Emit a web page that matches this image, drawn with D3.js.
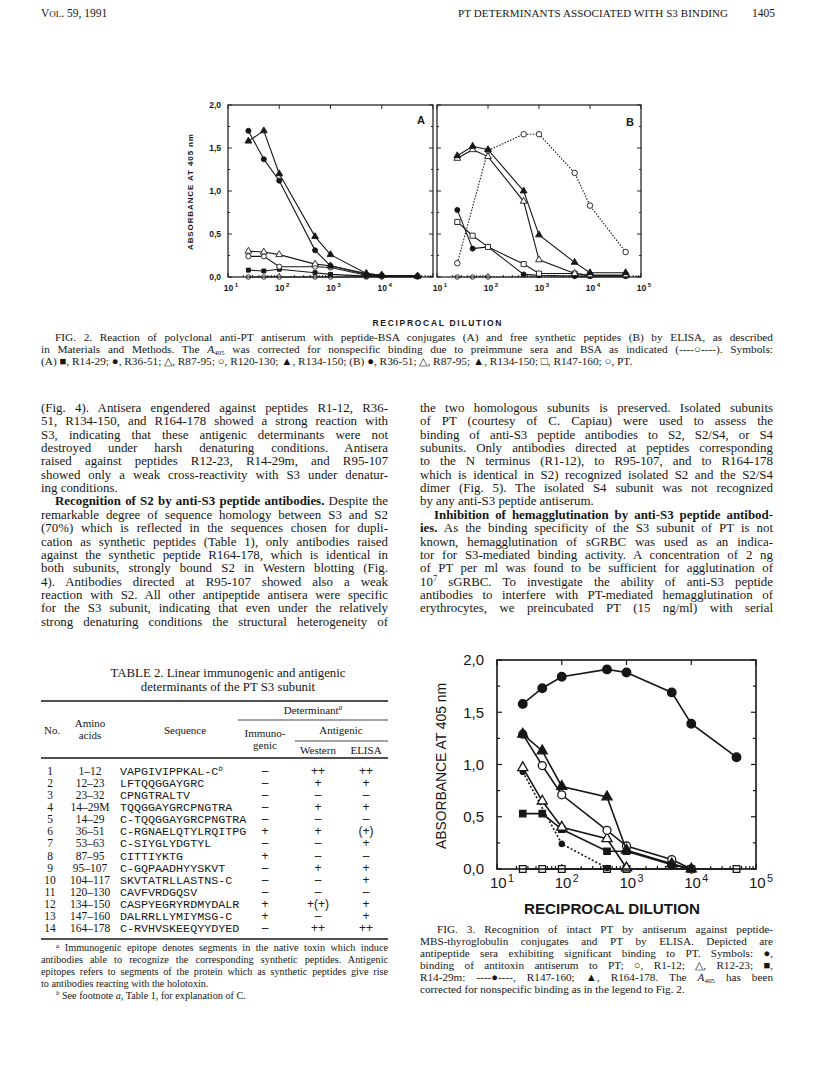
<!DOCTYPE html>
<html>
<head>
<meta charset="utf-8">
<script src="https://cdn.jsdelivr.net/npm/d3@7"></script>
<style>
  html, body { margin: 0; padding: 0; background: #fff; }
  svg { display: block; }
</style>
</head>
<body>
<svg id="page" width="816" height="1082"></svg>
<script>
// ---- data -----------------------------------------------------------------
const dilutions = [25, 50, 100, 500, 1000, 5000, 10000, 50000];

// Fig. 2A: anti-PT antiserum vs peptide-BSA conjugates (A405)
const fig2A_R14_29   = [0.08, 0.07, 0.09, 0.05, 0.03, 0.01, 0.01, 0.01];
const fig2A_R36_51   = [1.70, 1.37, 1.12, 0.31, 0.13, 0.03, 0.02, 0.01];
const fig2A_R87_95   = [0.30, 0.29, 0.26, 0.15, 0.13, 0.04, 0.02, 0.01];
const fig2A_R120_130 = [0.24, 0.24, 0.12, 0.12, 0.11, 0.02, 0.01, 0.01];
const fig2A_R134_150 = [1.58, 1.70, 1.20, 0.47, 0.26, 0.04, 0.02, 0.01];
const fig2A_control  = [0.00, 0.00, 0.00, 0.00, 0.00, 0.00, 0.00, 0.00];

// Fig. 2B: anti-PT antiserum vs free synthetic peptides
const fig2B_R36_51   = [0.78, 0.33, 0.35, 0.03, 0.02, 0.01, 0.01, 0.01];
const fig2B_R87_95   = [1.38, 1.48, 1.40, 0.88, 0.20, 0.04, 0.02, 0.02];
const fig2B_R134_150 = [1.41, 1.52, 1.48, 1.00, 0.49, 0.17, 0.05, 0.05];
const fig2B_R147_160 = [0.64, 0.48, 0.35, 0.15, 0.04, 0.04, 0.02, 0.02];
const fig2B_PT       = [0.16, null, 1.47, 1.66, 1.66, 1.21, 0.83, 0.29];
const fig2B_control  = [0.00, 0.00, 0.00, 0.00, 0.00, 0.00, 0.00, 0.00];

// Fig. 3: antipeptide sera vs intact PT
const fig3_antitoxin = [1.58, 1.73, 1.84, 1.91, 1.88, 1.69, 1.39, 1.07];
const fig3_R1_12     = [1.29, 0.99, 0.71, 0.37, 0.22, 0.09, 0.00, null];
const fig3_R12_23    = [0.97, 0.65, 0.40, 0.29, 0.01, null, null, null];
const fig3_R14_29m   = [0.53, 0.53, 0.38, 0.17, 0.17, 0.04, 0.00, null];
const fig3_R147_160  = [0.93, null, 0.24, 0.01, null, null, null, null];
const fig3_R164_178  = [1.29, 1.13, 0.79, 0.69, 0.18, 0.05, 0.00, null];
const fig3_control   = [0.00, 0.00, 0.00, 0.00, 0.00, null, 0.00, 0.00];

const yTicks      = [0, 0.5, 1.0, 1.5, 2.0];
const yTickLabels = ['0,0', '0,5', '1,0', '1,5', '2,0'];
const xDecades    = [10, 100, 1000, 10000, 100000];
const xExponents  = ['1', '2', '3', '4', '5'];

// Table 2
const tableNo      = ['1','2','3','4','5','6','7','8','9','10','11','12','13','14'];
const tableAmino   = ['1–12','12–23','23–32','14–29M','14–29','36–51','53–63','87–95',
                      '95–107','104–117','120–130','134–150','147–160','164–178'];
const tableSeq     = ['VAPGIVIPPKAL-C^b^','LFTQQGGAYGRC','CPNGTRALTV','TQQGGAYGRCPNGTRA',
                      'C-TQQGGAYGRCPNGTRA','C-RGNAELQTYLRQITPG','C-SIYGLYDGTYL','CITTIYKTG',
                      'C-GQPAADHYYSKVT','SKVTATRLLASTNS-C','CAVFVRDGQSV','CASPYEGRYRDMYDALR',
                      'DALRRLLYMIYMSG-C','C-RVHVSKEEQYYDYED'];
const tableImmuno  = ['–','–','–','–','–','+','–','+','–','–','–','+','+','–'];
const tableWestern = ['++','+','–','+','–','+','–','–','+','–','–','+(+)','–','++'];
const tableElisa   = ['++','+','–','+','–','(+)','+','–','+','+','–','+','+','++'];

// ---- text ---------------------------------------------------------------
const fig2Caption = [
  '>FIG. 2. Reaction of polyclonal anti-PT antiserum with peptide-BSA conjugates (A) and free synthetic peptides (B) by ELISA, as described',
  'in Materials and Methods. The {A}_405_ was corrected for nonspecific binding due to preimmune sera and BSA as indicated (----○----). Symbols:',
  '(A) ■, R14-29; ●, R36-51; △, R87-95; ○, R120-130; ▲, R134-150; (B) ●, R36-51; △, R87-95; ▲, R134-150; □, R147-160; ○, PT.|'
];
const leftColumn = [
  '(Fig. 4). Antisera engendered against peptides R1-12, R36-',
  '51, R134-150, and R164-178 showed a strong reaction with',
  'S3, indicating that these antigenic determinants were not',
  'destroyed under harsh denaturing conditions. Antisera',
  'raised against peptides R12-23, R14-29m, and R95-107',
  'showed only a weak cross-reactivity with S3 under denatur-',
  'ing conditions.|',
  '>**Recognition of S2 by anti-S3 peptide antibodies.** Despite the',
  'remarkable degree of sequence homology between S3 and S2',
  '(70%) which is reflected in the sequences chosen for dupli-',
  'cation as synthetic peptides (Table 1), only antibodies raised',
  'against the synthetic peptide R164-178, which is identical in',
  'both subunits, strongly bound S2 in Western blotting (Fig.',
  '4). Antibodies directed at R95-107 showed also a weak',
  'reaction with S2. All other antipeptide antisera were specific',
  'for the S3 subunit, indicating that even under the relatively',
  'strong denaturing conditions the structural heterogeneity of'
];
const rightColumn = [
  'the two homologous subunits is preserved. Isolated subunits',
  'of PT (courtesy of C. Capiau) were used to assess the',
  'binding of anti-S3 peptide antibodies to S2, S2/S4, or S4',
  'subunits. Only antibodies directed at peptides corresponding',
  'to the N terminus (R1-12), to R95-107, and to R164-178',
  'which is identical in S2) recognized isolated S2 and the S2/S4',
  'dimer (Fig. 5). The isolated S4 subunit was not recognized',
  'by any anti-S3 peptide antiserum.|',
  '>**Inhibition of hemagglutination by anti-S3 peptide antibod-**',
  '**ies.** As the binding specificity of the S3 subunit of PT is not',
  'known, hemagglutination of sGRBC was used as an indica-',
  'tor for S3-mediated binding activity. A concentration of 2 ng',
  'of PT per ml was found to be sufficient for agglutination of',
  '10^7^ sGRBC. To investigate the ability of anti-S3 peptide',
  'antibodies to interfere with PT-mediated hemagglutination of',
  'erythrocytes, we preincubated PT (15 ng/ml) with serial'
];
const fig3Caption = [
  '>FIG. 3. Recognition of intact PT by antiserum against peptide-',
  'MBS-thyroglobulin conjugates and PT by ELISA. Depicted are',
  'antipeptide sera exhibiting significant binding to PT. Symbols: ●,',
  'binding of antitoxin antiserum to PT; ○, R1-12; △, R12-23; ■,',
  'R14-29m: ----●----, R147-160; ▲, R164-178. The {A}_405_ has been',
  'corrected for nonspecific binding as in the legend to Fig. 2.|'
];
const tableFootnotes = [
  '>^a^ Immunogenic epitope denotes segments in the native toxin which induce',
  'antibodies able to recognize the corresponding synthetic peptides. Antigenic',
  'epitopes refers to segments of the protein which as synthetic peptides give rise',
  'to antibodies reacting with the holotoxin.|',
  '>^b^ See footnote {a}, Table 1, for explanation of C.|'
];

// ---- helpers ------------------------------------------------------------
const SERIF = '"Liberation Serif", "Times New Roman", serif';
const SANS  = '"Liberation Sans", Arial, Helvetica, sans-serif';
const MONO  = '"Liberation Mono", "Courier New", monospace';
const INK   = '#161616';

const svg = d3.select('#page');
svg.append('rect').attr('width', 816).attr('height', 1082).attr('fill', '#fff');

// Inline markup: **bold**, ^sup^, _sub_, {italic}
function rich(parent, x, y, str, o = {}) {
  const size = o.size ?? 12;
  const t = parent.append('text')
    .attr('x', x).attr('y', y)
    .attr('font-family', o.family ?? SERIF)
    .attr('font-size', size)
    .attr('font-weight', o.weight ?? 'normal')
    .attr('text-anchor', o.anchor ?? 'start')
    .attr('fill', INK);
  let shift = 0;
  str.split(/(\*\*.+?\*\*|\^.+?\^|_.+?_|\{.+?\})/).forEach(part => {
    if (!part) return;
    let target = 0, txt = part, fs = null, bold = false, ital = false;
    if (part.startsWith('**'))      { txt = part.slice(2, -2); bold = true; }
    else if (part[0] === '^')        { txt = part.slice(1, -1); target = -size * 0.32; fs = size * 0.66; ital = /[a-z]/.test(txt); }
    else if (part[0] === '_')        { txt = part.slice(1, -1); target = size * 0.16;  fs = size * 0.62; }
    else if (part[0] === '{')        { txt = part.slice(1, -1); ital = true; }
    const ts = t.append('tspan').text(txt);
    if (target !== shift) { ts.attr('dy', target - shift); shift = target; }
    if (fs) ts.attr('font-size', fs);
    if (bold) ts.attr('font-weight', 'bold');
    if (ital) ts.attr('font-style', 'italic');
  });
  return t;
}

// Set word spacing so the line fills the measure exactly
function justify(t, width) {
  const node = t.node();
  const spaces = (node.textContent.match(/ /g) || []).length;
  if (!spaces) return;
  const w = node.getComputedTextLength();
  t.attr('word-spacing', (width - w) / spaces);
}

// A block of lines: leading '>' = indent, trailing '|' = ragged last line
function paragraphBlock(lines, x0, x1, y0, lead, o = {}) {
  const indent = o.indent ?? 12;
  lines.forEach((raw, i) => {
    let s = raw, dx = 0, ragged = false;
    if (s.startsWith('>')) { s = s.slice(1); dx = indent; }
    if (s.endsWith('|'))   { s = s.slice(0, -1); ragged = true; }
    const t = rich(svg, x0 + dx, y0 + i * lead, s, o);
    if (!ragged) justify(t, x1 - x0 - dx);
  });
}

function markerPath(kind, size) {
  const type = { circle: d3.symbolCircle, square: d3.symbolSquare, triangle: d3.symbolTriangle }[kind];
  return d3.symbol().type(type).size(size)();
}

// Log-dilution panel: frame, inward ticks, series
function drawPanel(cfg) {
  const g = svg.append('g');
  const { x, y } = cfg;
  const [x0, x1] = x.range();
  const [yb, yt] = y.range();

  // ticks, inward on all four sides
  const minor = [];
  for (let d = 10; d < 1e5; d *= 10) for (let k = 2; k <= 9; k++) minor.push(d * k);
  const tk = g.append('g').attr('stroke', INK).attr('stroke-width', cfg.tickWidth ?? 0.9);
  xDecades.forEach(v => {
    tk.append('line').attr('x1', x(v)).attr('x2', x(v)).attr('y1', yb).attr('y2', yb - cfg.major);
    tk.append('line').attr('x1', x(v)).attr('x2', x(v)).attr('y1', yt).attr('y2', yt + cfg.major);
  });
  minor.forEach(v => {
    tk.append('line').attr('x1', x(v)).attr('x2', x(v)).attr('y1', yb).attr('y2', yb - cfg.minor);
  });
  d3.range(0, 2.01, 0.25).forEach(v => {
    const len = (Math.abs(v * 2 - Math.round(v * 2)) < 1e-6) ? cfg.major : cfg.minor;
    tk.append('line').attr('x1', x0).attr('x2', x0 + len).attr('y1', y(v)).attr('y2', y(v));
    tk.append('line').attr('x1', x1).attr('x2', x1 - len).attr('y1', y(v)).attr('y2', y(v));
  });

  // series
  const line = d3.line().x(d => x(d.d)).y(d => y(d.v));
  cfg.series.forEach(s => {
    const kept = dilutions.map((d, i) => ({ d, v: s.values[i] })).filter(p => p.v != null);
    g.append('path')
      .datum(kept)
      .attr('d', line)
      .attr('fill', 'none')
      .attr('stroke', INK)
      .attr('stroke-width', cfg.lineWidth)
      .attr('stroke-dasharray', s.dash ?? null);
    g.selectAll(null)
      .data(kept.filter(p => !s.markAt || s.markAt.includes(p.d)))
      .join('path')
      .attr('transform', p => `translate(${x(p.d)},${y(p.v)})`)
      .attr('d', markerPath(s.marker, s.size ?? cfg.markerSize))
      .attr('fill', s.filled ? INK : '#fff')
      .attr('stroke', INK)
      .attr('stroke-width', cfg.markerStroke);
  });

  g.append('rect')
    .attr('x', x0).attr('y', yt)
    .attr('width', x1 - x0).attr('height', yb - yt)
    .attr('fill', 'none').attr('stroke', INK).attr('stroke-width', cfg.frameWidth);

  // x tick labels: 10 with superscript exponent
  (cfg.xLabels ?? xDecades).forEach(v => {
    const i = xDecades.indexOf(v);
    const t = g.append('text')
      .attr('x', x(v) + cfg.labelShift).attr('y', cfg.xLabelY)
      .attr('text-anchor', 'middle')
      .attr('font-family', SANS).attr('font-size', cfg.labelSize)
      .attr('font-weight', cfg.labelWeight ?? 'normal')
      .attr('fill', INK);
    t.append('tspan').text('10');
    t.append('tspan').attr('dy', -cfg.labelSize * 0.42).attr('dx', 1.5)
      .attr('font-size', cfg.labelSize * 0.72).text(xExponents[i]);
  });

  if (cfg.yLabels) {
    yTicks.forEach((v, i) => {
      g.append('text')
        .attr('x', x0 - cfg.yLabelGap).attr('y', y(v) + cfg.labelSize * 0.36)
        .attr('text-anchor', 'end')
        .attr('font-family', SANS).attr('font-size', cfg.labelSize)
        .attr('font-weight', cfg.labelWeight ?? 'normal')
        .attr('fill', INK)
        .text(yTickLabels[i]);
    });
  }
  return g;
}

// ---- running head -------------------------------------------------------
const head = svg.append('text').attr('x', 41).attr('y', 17)
  .attr('font-family', SERIF).attr('font-size', 11.5).attr('fill', INK);
head.append('tspan').text('V');
head.append('tspan').attr('font-size', 9).text('OL');
head.append('tspan').text('. 59, 1991');
svg.append('text').attr('x', 458).attr('y', 17)
  .attr('font-family', SERIF).attr('font-size', 11).attr('fill', INK)
  .attr('textLength', 270).attr('lengthAdjust', 'spacing')
  .text('PT DETERMINANTS ASSOCIATED WITH S3 BINDING');
svg.append('text').attr('x', 775).attr('y', 17).attr('text-anchor', 'end')
  .attr('font-family', SERIF).attr('font-size', 11.5).attr('fill', INK).text('1405');

// ---- Fig. 2 ---------------------------------------------------------------
const y2 = d3.scaleLinear().domain([0, 2]).range([277, 105]);
const xA = d3.scaleLog().domain([10, 1e5]).range([228, 433]);
const xB = d3.scaleLog().domain([10, 1e5]).range([437, 641]);
const fig2Style = {
  y: y2, major: 4, minor: 2, lineWidth: 1.1, markerSize: 20, markerStroke: 0.9,
  frameWidth: 1.2, labelSize: 8.5, labelWeight: 'bold', labelShift: 3,
  xLabelY: 291, yLabelGap: 7
};

drawPanel({
  ...fig2Style, x: xA, yLabels: true, xLabels: [10, 100, 1000, 10000],
  series: [
    { values: fig2A_control,  marker: 'circle',   filled: false, size: 16 },
    { values: fig2A_R14_29,   marker: 'square',   filled: true,  size: 16 },
    { values: fig2A_R120_130, marker: 'circle',   filled: false },
    { values: fig2A_R87_95,   marker: 'triangle', filled: false },
    { values: fig2A_R36_51,   marker: 'circle',   filled: true },
    { values: fig2A_R134_150, marker: 'triangle', filled: true }
  ]
});
drawPanel({
  ...fig2Style, x: xB, yLabels: false,
  series: [
    { values: fig2B_control,  marker: 'circle',   filled: false, size: 16, dash: '1.5,1.5', markAt: [25, 50, 100] },
    { values: fig2B_PT,       marker: 'circle',   filled: false, dash: '1.5,1.5', size: 24 },
    { values: fig2B_R36_51,   marker: 'circle',   filled: true },
    { values: fig2B_R147_160, marker: 'square',   filled: false, size: 26 },
    { values: fig2B_R87_95,   marker: 'triangle', filled: false },
    { values: fig2B_R134_150, marker: 'triangle', filled: true }
  ]
});

svg.append('text').attr('x', 417).attr('y', 124).attr('font-family', SANS)
  .attr('font-size', 11).attr('font-weight', 'bold').attr('fill', INK).text('A');
svg.append('text').attr('x', 626).attr('y', 126).attr('font-family', SANS)
  .attr('font-size', 11).attr('font-weight', 'bold').attr('fill', INK).text('B');

svg.append('text')
  .attr('transform', 'translate(193,192) rotate(-90)')
  .attr('text-anchor', 'middle')
  .attr('font-family', SANS).attr('font-size', 8).attr('font-weight', 'bold')
  .attr('fill', INK).attr('textLength', 116).attr('lengthAdjust', 'spacing')
  .text('ABSORBANCE AT 405 nm');
svg.append('text')
  .attr('x', 437).attr('y', 326).attr('text-anchor', 'middle')
  .attr('font-family', SANS).attr('font-size', 8.5).attr('font-weight', 'bold')
  .attr('fill', INK).attr('textLength', 129).attr('lengthAdjust', 'spacing')
  .text('RECIPROCAL DILUTION');

paragraphBlock(fig2Caption, 41, 773, 341, 12, { size: 11.3, indent: 14 });

// ---- body text ----------------------------------------------------------
paragraphBlock(leftColumn,  41, 388, 412, 13.35, { size: 12.9, indent: 14 });
paragraphBlock(rightColumn, 420, 773, 412, 13.35, { size: 12.9, indent: 14 });

// ---- Table 2 --------------------------------------------------------------
const tb = { left: 41, right: 388 };
const tcol = { no: 50, amino: 90, seq: 120, immuno: 265, western: 318, elisa: 366 };
const TS = 11.5;

rich(svg, 228, 677, 'TABLE 2. Linear immunogenic and antigenic', { size: 12.8, anchor: 'middle' });
rich(svg, 228, 691, 'determinants of the PT S3 subunit', { size: 12.8, anchor: 'middle' });

const rule = (x1, x2, y, w) => svg.append('line')
  .attr('x1', x1).attr('x2', x2).attr('y1', y).attr('y2', y)
  .attr('stroke', INK).attr('stroke-width', w);
rule(tb.left, tb.right, 701, 1.6);
rule(238, tb.right, 720, 0.8);
rule(295, tb.right, 741, 0.8);
rule(tb.left, tb.right, 758, 1.6);

const HS = 11;
rich(svg, 313, 714, 'Determinant^a^', { size: HS, anchor: 'middle' });
rich(svg, 341, 734, 'Antigenic', { size: HS, anchor: 'middle' });
rich(svg, tcol.western, 754, 'Western', { size: HS, anchor: 'middle' });
rich(svg, tcol.elisa, 754, 'ELISA', { size: HS, anchor: 'middle' });
rich(svg, tcol.immuno, 737, 'Immuno-', { size: HS, anchor: 'middle' });
rich(svg, tcol.immuno, 749, 'genic', { size: HS, anchor: 'middle' });
rich(svg, 44, 734, 'No.', { size: HS });
rich(svg, tcol.amino, 727, 'Amino', { size: HS, anchor: 'middle' });
rich(svg, tcol.amino, 739, 'acids', { size: HS, anchor: 'middle' });
rich(svg, 185, 734, 'Sequence', { size: HS, anchor: 'middle' });

const rowY = d3.scaleLinear().domain([0, tableNo.length - 1]).range([775, 932]);
tableNo.forEach((n, i) => {
  const yy = rowY(i);
  rich(svg, tcol.no, yy, n, { size: TS, anchor: 'middle' });
  rich(svg, tcol.amino, yy, tableAmino[i], { size: TS, anchor: 'middle' });
  rich(svg, tcol.seq, yy, tableSeq[i], { size: 11.7, family: MONO });
  rich(svg, tcol.immuno, yy, tableImmuno[i], { size: 12, anchor: 'middle', family: SANS });
  rich(svg, tcol.western, yy, tableWestern[i], { size: 12, anchor: 'middle', family: SANS });
  rich(svg, tcol.elisa, yy, tableElisa[i], { size: 12, anchor: 'middle', family: SANS });
});
rule(tb.left, tb.right, 939, 1.6);

paragraphBlock(tableFootnotes, tb.left, tb.right, 951, 11.9, { size: 10.2, indent: 15 });

// ---- Fig. 3 ---------------------------------------------------------------
const x3 = d3.scaleLog().domain([10, 1e5]).range([497, 756]);
const y3 = d3.scaleLinear().domain([0, 2]).range([869, 660]);
drawPanel({
  x: x3, y: y3, major: 5, minor: 3, lineWidth: 1.6, markerSize: 50, markerStroke: 1.3,
  frameWidth: 1.6, tickWidth: 1.2, labelSize: 15, labelShift: 5, xLabelY: 888, yLabelGap: 13,
  yLabels: true,
  series: [
    { values: fig3_control,   marker: 'square',   filled: false, size: 44 },
    { values: fig3_R147_160,  marker: 'circle',   filled: true,  size: 22, dash: '2,2' },
    { values: fig3_R14_29m,   marker: 'square',   filled: true,  size: 40 },
    { values: fig3_R12_23,    marker: 'triangle', filled: false, size: 44 },
    { values: fig3_R1_12,     marker: 'circle',   filled: false },
    { values: fig3_R164_178,  marker: 'triangle', filled: true,  size: 44 },
    { values: fig3_antitoxin, marker: 'circle',   filled: true,  size: 58 }
  ]
});
svg.append('text')
  .attr('transform', 'translate(446,766) rotate(-90)')
  .attr('text-anchor', 'middle')
  .attr('font-family', SANS).attr('font-size', 15.5)
  .attr('fill', INK).attr('textLength', 166).attr('lengthAdjust', 'spacingAndGlyphs')
  .text('ABSORBANCE AT 405 nm');
svg.append('text')
  .attr('x', 612).attr('y', 914).attr('text-anchor', 'middle')
  .attr('font-family', SANS).attr('font-size', 15).attr('font-weight', 'bold')
  .attr('fill', INK).attr('textLength', 176).attr('lengthAdjust', 'spacingAndGlyphs')
  .text('RECIPROCAL DILUTION');

paragraphBlock(fig3Caption, 420, 773, 933, 12, { size: 11.2, indent: 17 });
</script>
</body>
</html>
